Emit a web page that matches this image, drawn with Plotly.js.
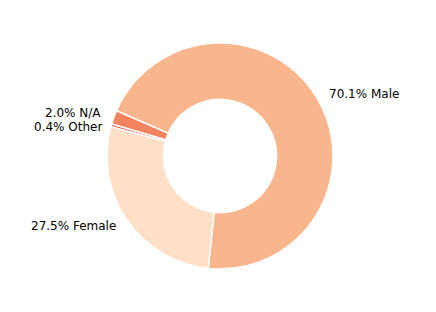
<!DOCTYPE html>
<html>
<head>
<meta charset="utf-8">
<script src="https://cdn.plot.ly/plotly-3.0.1.min.js"></script>
<style>html,body{margin:0;padding:0;background:#fff;}#chart{width:436px;height:312px;}</style>
</head>
<body>
<div id="chart"></div>
<script>
const labels = ["Male", "N/A", "Other", "Female"];
const values = [70.1, 2.0, 0.4, 27.5];
const colors = ["#f9b68d", "#f3845f", "#e5604f", "#fee0c8"];

const W = 436, H = 312, cx = 220, cy = 156, R = 113;
const startDeg = -96;      // math angle where the first slice starts (counterclockwise)
const labelDist = 1.1;

const total = values.reduce((a, b) => a + b, 0);
const firstSpan = values[0] / total * 360;

const trace = {
  type: "pie",
  labels: labels,
  values: values,
  sort: false,
  direction: "counterclockwise",
  rotation: (90 - startDeg) - firstSpan,
  hole: 0.5,
  marker: {colors: colors, line: {color: "#ffffff", width: 1.5}},
  textinfo: "none",
  hoverinfo: "none",
  showlegend: false,
  domain: {x: [(cx - R) / W, (cx + R) / W], y: [(H - cy - R) / H, (H - cy + R) / H]}
};

const nudges = {"Other": {x: 4, y: -5}};
const annotations = [];
let acc = 0;
values.forEach((v, i) => {
  const span = v / total * 360;
  const mid = (startDeg + acc + span / 2) * Math.PI / 180;
  acc += span;
  const px = cx + labelDist * R * Math.cos(mid);
  const py = cy - labelDist * R * Math.sin(mid);
  const n = nudges[labels[i]] || {x: 0, y: 0};
  annotations.push({
    xref: "paper", yref: "paper",
    x: px / W, y: 1 - py / H,
    xanchor: Math.cos(mid) > 0 ? "left" : "right",
    yanchor: "middle",
    xshift: n.x, yshift: n.y,
    showarrow: false,
    text: (v / total * 100).toFixed(1) + "% " + labels[i],
    font: {family: "DejaVu Sans", size: 12, color: "#000000"}
  });
});

Plotly.newPlot("chart", [trace], {
  width: W, height: H,
  margin: {l: 0, r: 0, t: 0, b: 0},
  paper_bgcolor: "#ffffff",
  showlegend: false,
  annotations: annotations
}, {staticPlot: true, displayModeBar: false});
</script>
</body>
</html>
